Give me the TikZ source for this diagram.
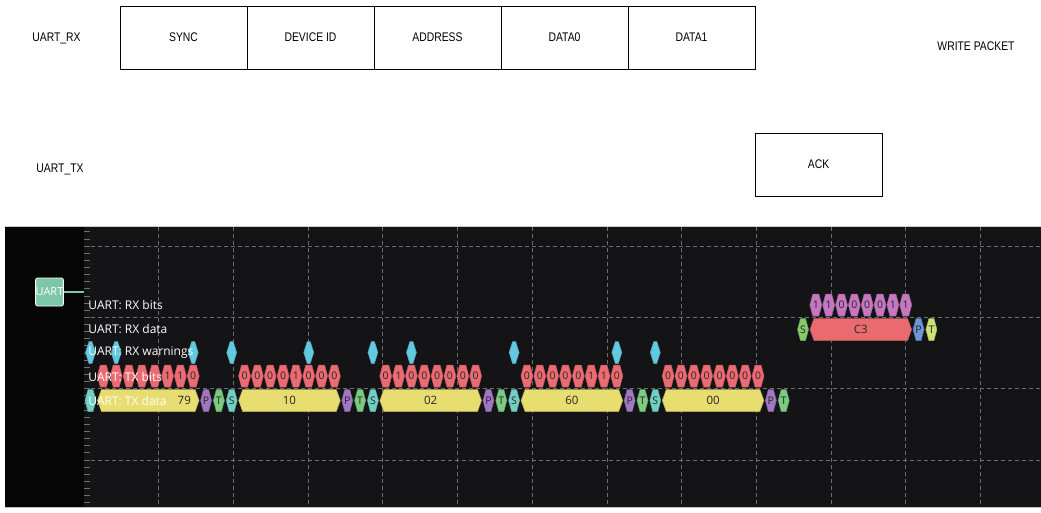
\documentclass[tikz,border=0pt]{standalone}
\usepackage{fontspec}
\setmainfont{Liberation Sans}
\newfontfamily\narrowfont{Liberation Sans}[FakeStretch=0.83]
\newfontfamily\pvfont{Open Sans}
\usetikzlibrary{positioning}

\definecolor{panelbg}{HTML}{141417}
\definecolor{sidebg}{HTML}{050505}
\definecolor{gridgray}{HTML}{6E6E72}
\definecolor{bitred}{HTML}{EB6B73}
\definecolor{datayellow}{HTML}{E7DD70}
\definecolor{parpurple}{HTML}{A277C4}
\definecolor{stopgreen}{HTML}{7CCB80}
\definecolor{startteal}{HTML}{72D0C2}
\definecolor{warncyan}{HTML}{63C9E1}
\definecolor{rxpink}{HTML}{C677C1}
\definecolor{rxred}{HTML}{EA6B6F}
\definecolor{rxgreen}{HTML}{84C96A}
\definecolor{rxblue}{HTML}{6D95D8}
\definecolor{rxlime}{HTML}{CBE274}
\definecolor{uartteal}{HTML}{7EC6AA}

\tikzset{
    field/.style={draw,
        minimum width=127pt,
        minimum height=63pt,
        outer sep=0pt,
        font=\narrowfont\fontsize{12.5}{14}\selectfont},
    annot text/.style={inner sep=0pt, text=black!85,
        font=\pvfont\fontsize{10.5}{12}\selectfont},
    row label/.style={anchor=west, inner sep=0pt, text=white,
        font=\pvfont\fontsize{12}{14}\selectfont},
    griddash/.style={gridgray, line width=0.6pt, dash pattern=on 4pt off 3pt}
}

% annotation hexagon: name, x, y, half width, cap, colour, text
\newcommand{\annot}[7]{%
    \filldraw[fill=#6, draw=#6!80!black, line width=0.5pt]
        ({#2-#4},{#3}) -- ({#2-#4+#5},{#3-11}) -- ({#2+#4-#5},{#3-11})
        -- ({#2+#4},{#3}) -- ({#2+#4-#5},{#3+11}) -- ({#2-#4+#5},{#3+11}) -- cycle;
    \node[annot text] (#1) at ({#2},{#3}) {#7};
}

\begin{document}
\begin{tikzpicture}[x=1pt, y=-1pt, line width=0.8pt]
    \useasboundingbox (0,0) rectangle (1041,512);

    % packet fields
    \node [field] (sync) at (183.5,37.5) {SYNC};
    \node [field, right=0pt of sync] (devid) {DEVICE ID};
    \node [field, right=0pt of devid] (addr) {ADDRESS};
    \node [field, right=0pt of addr] (data0) {DATA0};
    \node [field, right=0pt of data0] (data1) {DATA1};
    \node [field,
        below=64pt of data1.south east,
        anchor=north west
    ] (ack) {ACK};

    \node [font=\narrowfont\fontsize{12.5}{14}\selectfont] (rxname) at (56.5,38) {UART\_RX};
    \node [font=\narrowfont\fontsize{12.5}{14}\selectfont] (txname) at (60,169) {UART\_TX};
    \node [font=\narrowfont\fontsize{12.5}{14}\selectfont] (title) at (976,46) {WRITE PACKET};

    % analyzer panel
    \fill[panelbg] (5,226) rectangle (1041,507);
    \fill[sidebg] (5,226) rectangle (84,507);
    \draw[black!20, line width=1pt] (5,226) -- (1041,226);
    \draw[black!25, line width=1pt] (5,507) -- (1041,507);
    \foreach \gx in {0,...,11}
        \draw[griddash] ({158.6+74.7*\gx},227) -- ({158.6+74.7*\gx},506);
    \foreach \gy in {0,...,3}
        \draw[griddash] (84,{246+71.3*\gy}) -- (1041,{246+71.3*\gy});
    \foreach \t in {0,...,38}
        \draw[gridgray, line width=0.6pt] (84,{231.7+7.13*\t}) -- (90,{231.7+7.13*\t});

    % decoder channel
    \node [draw=white,
        fill=uartteal,
        rounded corners=2pt,
        minimum width=27pt,
        minimum height=28pt,
        inner sep=0pt,
        line width=0.8pt,
        text=white,
        font=\pvfont\fontsize{11}{13}\selectfont
    ] (uart) at (49.5,292) {UART};
    \coordinate (trace) at (84,292);
    \draw[uartteal, line width=1.5pt] (uart.east) -- (trace);

    % TX frames
    \foreach \k/\byte/\bits/\shift in {0/79/{1,0,0,1,1,1,1,0}/36, 1/10/{0,0,0,0,1,0,0,0}/0, 2/02/{0,1,0,0,0,0,0,0}/0, 3/60/{0,0,0,0,0,1,1,0}/0, 4/00/{0,0,0,0,0,0,0,0}/0} {
        \pgfmathsetmacro{\s}{90.5+141.2*\k}
        \pgfmathsetmacro{\dc}{\s+4.5*12.84}
        \annot{txs\k}{\s}{400.5}{5.5}{3}{startteal}{\ifnum\k=0 \else S\fi}
        \annot{txd\k}{\dc}{400.5}{50.8}{4}{datayellow}{}
        \node[annot text, font=\pvfont\fontsize{11.5}{13}\selectfont] (txv\k) at ({\dc+\shift},400.5) {\byte};
        \annot{txp\k}{\s+9*12.84}{400.5}{5.5}{3}{parpurple}{P}
        \annot{txt\k}{\s+10*12.84}{400.5}{5.5}{3}{stopgreen}{T}
        \foreach \v [count=\i] in \bits {
            \pgfmathtruncatemacro{\hide}{and(\k==0,\i<6)}
            \annot{txb\k-\i}{\s+\i*12.84}{376}{6}{3}{bitred}{\ifnum\hide=1 \else\v\fi}
        }
    }

    % RX warnings
    \foreach \k/\n [count=\w] in {0/0, 0/2, 0/8, 1/0, 1/6, 2/0, 2/3, 3/0, 3/8, 4/0} {
        \annot{warn\w}{90.5+141.2*\k+\n*12.84}{352.5}{5}{3.5}{warncyan}{}
    }

    % RX frame
    \annot{rxs}{803}{329.5}{5.5}{3}{rxgreen}{S}
    \annot{rxd}{803+4.5*12.84}{329.5}{50.8}{4}{rxred}{}
    \node[annot text, font=\pvfont\fontsize{11.5}{13}\selectfont] (rxv) at (rxd) {C3};
    \annot{rxp}{803+9*12.84}{329.5}{5.5}{3}{rxblue}{P}
    \annot{rxt}{803+10*12.84}{329.5}{5.5}{3}{rxlime}{T}
    \foreach \v [count=\i] in {1,1,0,0,0,0,1,1} {
        \annot{rxb\i}{803+\i*12.84}{305}{6}{3}{rxpink}{\v}
    }

    % row labels
    \node[row label] (lrxbits) at (88,305) {UART: RX bits};
    \node[row label] (lrxdata) at (88,329) {UART: RX data};
    \node[row label] (lrxwarn) at (88,353) {UART: RX warnings};
    \node[row label] (ltxbits) at (88,377) {UART: TX bits};
    \node[row label] (ltxdata) at (88,401) {UART: TX data};
\end{tikzpicture}
\end{document}
